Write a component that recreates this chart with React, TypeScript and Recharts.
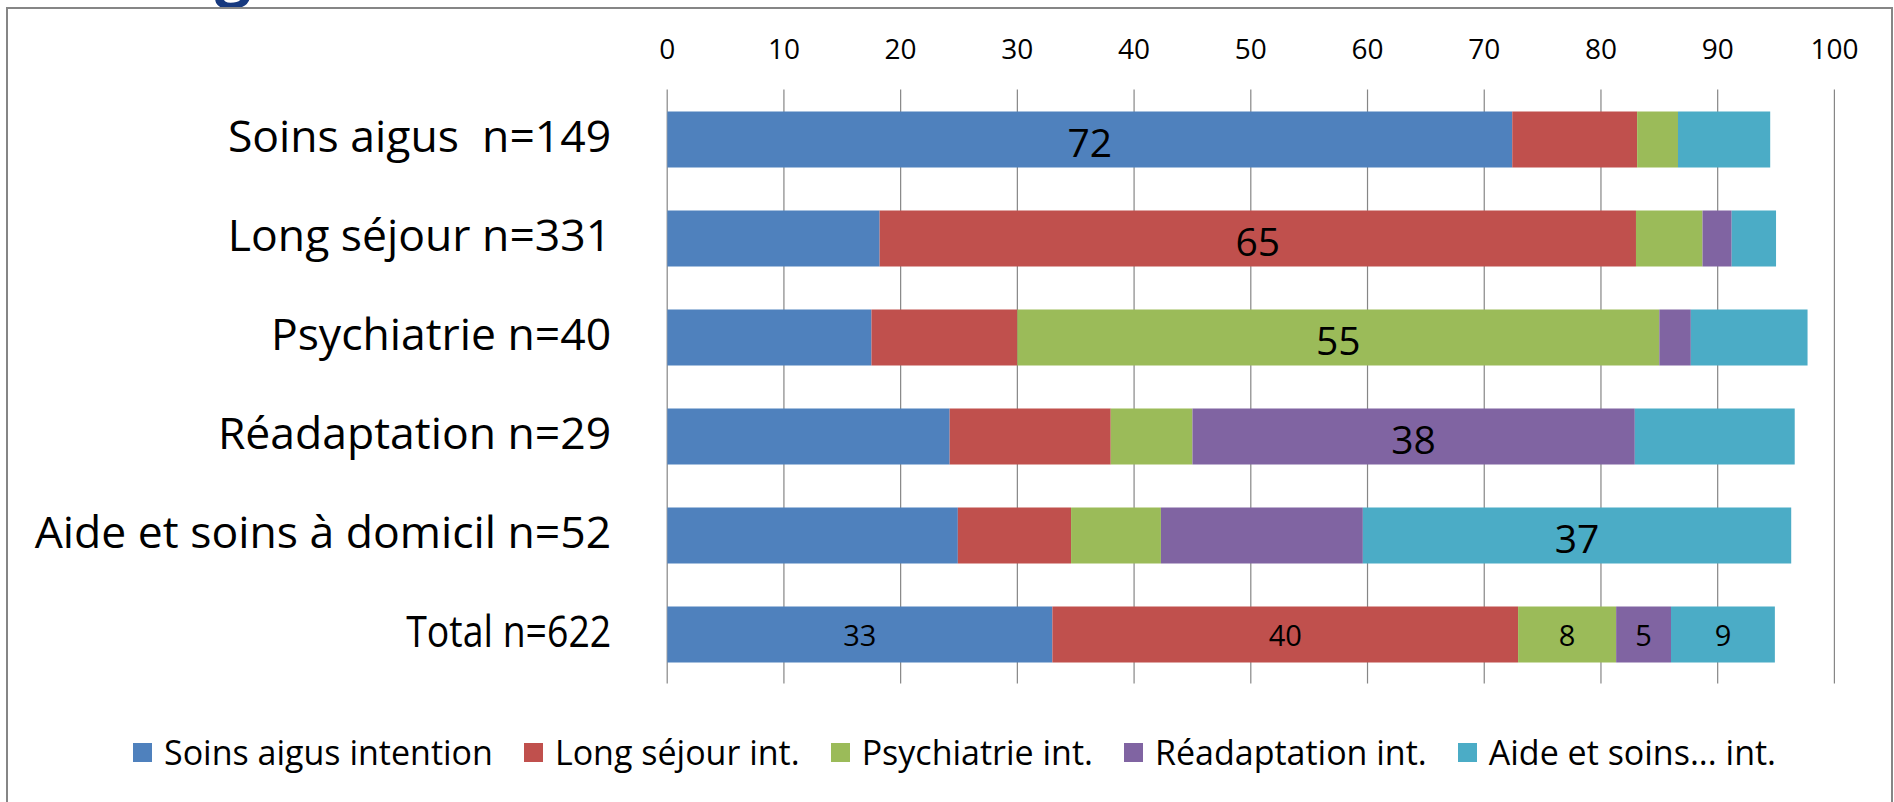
import React from 'react';
import { BarChart, Bar, XAxis, YAxis, CartesianGrid, Legend, LabelList } from 'recharts';

const categories = [
  'Soins aigus  n=149',
  'Long séjour n=331',
  'Psychiatrie n=40',
  'Réadaptation n=29',
  'Aide et soins à domicil n=52',
  'Total n=622',
];
const seriesNames = [
  'Soins aigus intention',
  'Long séjour int.',
  'Psychiatrie int.',
  'Réadaptation int.',
  'Aide et soins... int.',
];
const soinsAigus = [72.4, 18.2, 17.5, 24.2, 24.9, 33.0];
const longSejour = [10.7, 64.8, 12.5, 13.8, 9.7, 39.9];
const psychiatrie = [3.5, 5.7, 55.0, 7.0, 7.7, 8.4];
const readaptation = [0, 2.5, 2.7, 37.9, 17.3, 4.7];
const aideSoins = [7.9, 3.8, 10.0, 13.7, 36.7, 8.9];
const xTicks = [0, 10, 20, 30, 40, 50, 60, 70, 80, 90, 100];

const seriesValues = [soinsAigus, longSejour, psychiatrie, readaptation, aideSoins];
const seriesKeys = ['s0', 's1', 's2', 's3', 's4'];
const colors = ['#4F81BD', '#C0504D', '#9BBB59', '#8064A2', '#4BACC6'];

const data = categories.map((name, i) => {
  const row: Record<string, any> = { name, row: i };
  seriesKeys.forEach((k, s) => {
    row[k] = seriesValues[s][i];
  });
  return row;
});

const FONT = '"Open Sans", sans-serif';
const GRID = '#868686';

const XTick = (props: any) => {
  const { x, y, payload } = props;
  return (
    <text x={x} y={y} textAnchor="middle" fontFamily={FONT} fontSize={28} fill="#000">
      {payload.value}
    </text>
  );
};

const YTick = (props: any) => {
  const { x, y, payload } = props;
  const isTotal = payload.value === categories[categories.length - 1];
  const extra = isTotal ? { textLength: 205, lengthAdjust: 'spacingAndGlyphs' } : {};
  return (
    <text
      x={x}
      y={y + 13}
      textAnchor="end"
      fontFamily={FONT}
      fontSize={44.5}
      fill="#000"
      style={{ whiteSpace: 'pre' }}
      {...(extra as any)}
    >
      {payload.value}
    </text>
  );
};

const makeLabel = (seriesIndex: number) => (props: any) => {
  const { x, y, width, height, value } = props;
  if (typeof value !== 'string') return null;
  const [rowStr, valStr] = value.split('|');
  const rowIndex = Number(rowStr);
  const v = Number(valStr);
  const lastRow = categories.length - 1;
  const big = rowIndex === seriesIndex && rowIndex !== lastRow;
  const small = rowIndex === lastRow;
  if (!big && !small) return null;
  if (!(v > 0)) return null;
  const fs = big ? 39 : 29;
  const cx = Number(x) + Number(width) / 2;
  const cy = Number(y) + Number(height) / 2;
  return (
    <text
      x={cx}
      y={cy + (big ? 17 : 11.5)}
      textAnchor="middle"
      fontFamily={FONT}
      fontSize={fs}
      fill="#000"
    >
      {Math.round(v)}
    </text>
  );
};

const LegendContent = () => (
  <div
    style={{
      display: 'flex',
      alignItems: 'center',
      fontFamily: FONT,
      fontSize: 34,
      color: '#000',
      whiteSpace: 'nowrap',
      height: 40,
    }}
  >
    {seriesNames.map((n, i) => (
      <div key={n} style={{ display: 'flex', alignItems: 'center', marginRight: 31 }}>
        <div style={{ width: 19, height: 19, background: colors[i], marginRight: 12 }} />
        <span>{n}</span>
      </div>
    ))}
  </div>
);

export default function App() {
  return (
    <div
      style={{
        position: 'absolute',
        left: 0,
        top: 0,
        width: 1894,
        height: 802,
        overflow: 'hidden',
        background: '#fff',
      }}
    >
      <svg width={320} height={24} style={{ position: 'absolute', left: 0, top: 0 }}>
        <text x={215} y={-7} fontFamily={FONT} fontWeight={700} fontSize={64} fill="#17397F">
          g
        </text>
      </svg>
      <div
        style={{
          position: 'absolute',
          left: 6,
          top: 7,
          width: 1887,
          height: 900,
          border: `2px solid ${GRID}`,
          boxSizing: 'border-box',
        }}
      />
      <div style={{ position: 'absolute', left: 0, top: 0 }}>
        <BarChart
          width={1894}
          height={802}
          data={data}
          layout="vertical"
          barSize={56}
          margin={{ top: 59.5, right: 59.6, bottom: 78.5, left: 0 }}
        >
          <CartesianGrid horizontal={false} vertical stroke={GRID} strokeWidth={1.2} />
          <XAxis
            type="number"
            orientation="top"
            domain={[0, 100]}
            ticks={xTicks}
            interval={0}
            height={30}
            axisLine={false}
            tickLine={false}
            tickSize={0}
            tickMargin={31}
            tick={<XTick />}
            allowDataOverflow
          />
          <YAxis
            type="category"
            dataKey="name"
            width={667.2}
            axisLine={false}
            tickLine={false}
            tickSize={0}
            tickMargin={56}
            interval={0}
            tick={<YTick />}
          />
          <Legend
            verticalAlign="bottom"
            height={40}
            wrapperStyle={{ top: 732, left: 133, width: 'auto', height: 40 }}
            content={<LegendContent />}
          />
          {seriesKeys.map((k, s) => (
            <Bar
              key={k}
              dataKey={k}
              name={seriesNames[s]}
              stackId="a"
              fill={colors[s]}
              isAnimationActive={false}
            >
              <LabelList
                dataKey={(d: any) => `${d.row}|${d[k]}`}
                content={makeLabel(s)}
              />
            </Bar>
          ))}
        </BarChart>
      </div>
    </div>
  );
}
